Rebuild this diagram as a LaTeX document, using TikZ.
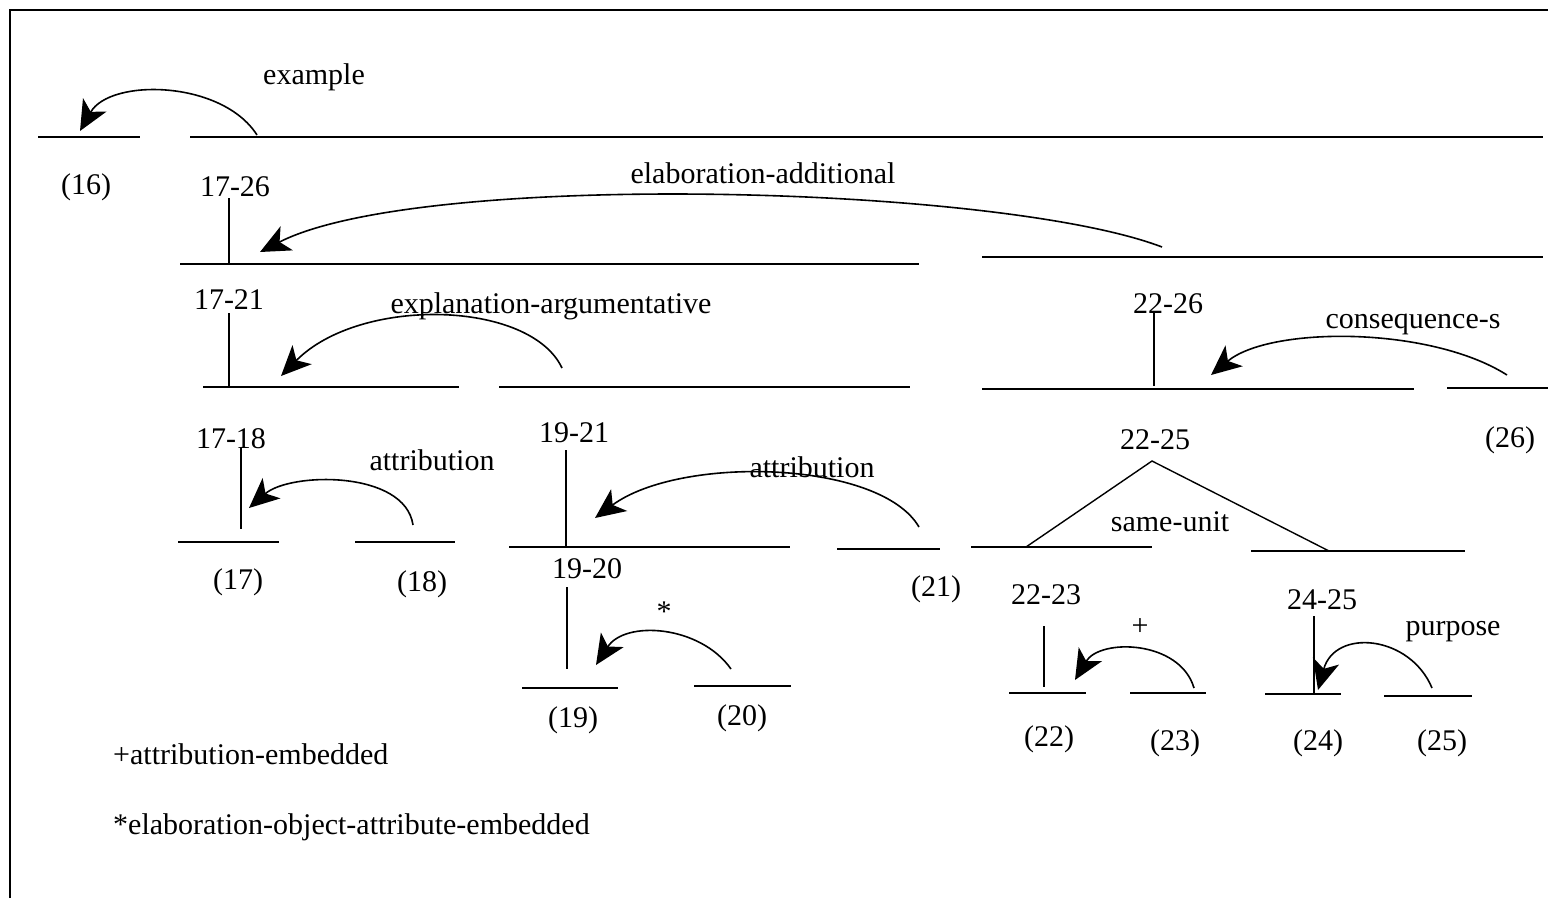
\documentclass[tikz,border=0pt]{standalone}
\usepackage{fontspec}
\setmainfont{Liberation Serif}
\usetikzlibrary{arrows.meta}
\begin{document}
\begin{tikzpicture}[x=1pt,y=-1pt,
  seg/.style={line width=1.8pt},
  stem/.style={line width=1.4pt},
  frame/.style={line width=2pt},
  rel/.style={line width=1.6pt,-{Stealth[length=30pt,width=27pt,inset=8pt]}},
  lbl/.style={inner sep=0pt,yshift=-2pt,font=\fontsize{30}{36}\selectfont}]
\useasboundingbox (0,0) rectangle (1548,898);

% outer frame (left and top edges)
\coordinate (fbl) at (10,898);
\coordinate (ftl) at (10,10);
\coordinate (ftr) at (1548,10);
\draw[frame] (fbl) -- (ftl) -- (ftr);

% ---------- level 1: (16) and 17-26 ----------
\coordinate (a16) at (38,137);   \coordinate (b16) at (140,137);
\coordinate (a1726) at (190,137); \coordinate (b1726) at (1543,137);
\draw[seg] (a16) -- (b16);
\draw[seg] (a1726) -- (b1726);
\node[lbl] (l16) at (86,185) {(16)};
\node[lbl] (l1726) at (235,185) {17-26};
\node[lbl] (rexample) at (314,75) {example};
\coordinate (sEx) at (257,135); \coordinate (tEx) at (80,131);
\draw[rel] (sEx) .. controls (222,80) and (110,78) .. (tEx);

% ---------- level 2: 17-21 and 22-26 ----------
\coordinate (v1726a) at (229,198); \coordinate (v1726b) at (229,264);
\draw[stem] (v1726a) -- (v1726b);
\coordinate (a1721) at (180,264); \coordinate (b1721) at (919,264);
\coordinate (a2226) at (982,257); \coordinate (b2226) at (1543,257);
\draw[seg] (a1721) -- (b1721);
\draw[seg] (a2226) -- (b2226);
\node[lbl] (relab) at (763,171) {elaboration-additional};
\coordinate (sEl) at (1162,247); \coordinate (tEl) at (260,252);
\draw[rel] (sEl) .. controls (1000,185) and (420,170) .. (tEl);

% ---------- level 3, left: 17-18 and 19-21 ----------
\node[lbl] (l1721) at (229,298) {17-21};
\coordinate (v1721a) at (229,313); \coordinate (v1721b) at (229,386);
\draw[stem] (v1721a) -- (v1721b);
\coordinate (a1718) at (203,387); \coordinate (b1718) at (459,387);
\coordinate (a1921) at (499,387); \coordinate (b1921) at (910,387);
\draw[seg] (a1718) -- (b1718);
\draw[seg] (a1921) -- (b1921);
\node[lbl] (rexpl) at (551,304) {explanation-argumentative};
\coordinate (sXp) at (562,368); \coordinate (tXp) at (281,376);
\draw[rel] (sXp) .. controls (530,300) and (360,296) .. (tXp);

% ---------- level 3, right: 22-25 and (26) ----------
\node[lbl] (l2226) at (1168,302) {22-26};
\coordinate (v2226a) at (1154,313); \coordinate (v2226b) at (1154,386);
\draw[stem] (v2226a) -- (v2226b);
\coordinate (a2225) at (982,389); \coordinate (b2225) at (1414,389);
\coordinate (a26) at (1447,388); \coordinate (b26) at (1548,388);
\draw[seg] (a2225) -- (b2225);
\draw[seg] (a26) -- (b26);
\node[lbl] (rcons) at (1413,322) {consequence-s};
\node[lbl] (l26) at (1510,438) {(26)};
\coordinate (sCo) at (1507,375); \coordinate (tCo) at (1211,375);
\draw[rel] (sCo) .. controls (1430,326) and (1270,326) .. (tCo);

% ---------- 17-18: (17) and (18) ----------
\node[lbl] (l1718) at (231,437) {17-18};
\coordinate (v1718a) at (241,448); \coordinate (v1718b) at (241,529);
\draw[stem] (v1718a) -- (v1718b);
\coordinate (a17) at (178,542); \coordinate (b17) at (279,542);
\coordinate (a18) at (355,542); \coordinate (b18) at (455,542);
\draw[seg] (a17) -- (b17);
\draw[seg] (a18) -- (b18);
\node[lbl] (rattA) at (432,458) {attribution};
\node[lbl] (l17) at (238,580) {(17)};
\node[lbl] (l18) at (422,582) {(18)};
\coordinate (sAa) at (413,525); \coordinate (tAa) at (249,508);
\draw[rel] (sAa) .. controls (405,470) and (290,472) .. (tAa);

% ---------- 19-21: 19-20 and (21) ----------
\node[lbl] (l1921) at (574,431) {19-21};
\coordinate (v1921a) at (566,450); \coordinate (v1921b) at (566,547);
\draw[stem] (v1921a) -- (v1921b);
\coordinate (a1920) at (509,547); \coordinate (b1920) at (790,547);
\coordinate (a21) at (837,549); \coordinate (b21) at (940,549);
\draw[seg] (a1920) -- (b1920);
\draw[seg] (a21) -- (b21);
\node[lbl] (rattB) at (812,465) {attribution};
\node[lbl] (l21) at (936,587) {(21)};
\coordinate (sAb) at (919,527); \coordinate (tAb) at (595,518);
\draw[rel] (sAb) .. controls (880,460) and (680,455) .. (tAb);

% ---------- 19-20: (19) and (20) ----------
\node[lbl] (l1920) at (587,567) {19-20};
\coordinate (v1920a) at (567,587); \coordinate (v1920b) at (567,669);
\draw[stem] (v1920a) -- (v1920b);
\coordinate (a19) at (522,688); \coordinate (b19) at (618,688);
\coordinate (a20) at (694,686); \coordinate (b20) at (791,686);
\draw[seg] (a19) -- (b19);
\draw[seg] (a20) -- (b20);
\node[lbl] (rstar) at (664,610) {*};
\node[lbl] (l19) at (573,718) {(19)};
\node[lbl] (l20) at (742,716) {(20)};
\coordinate (sSt) at (731,669); \coordinate (tSt) at (596,665);
\draw[rel] (sSt) .. controls (700,625) and (625,620) .. (tSt);

% ---------- 22-25: same-unit ----------
\node[lbl] (l2225) at (1155,438) {22-25};
\coordinate (apex) at (1152,461);
\coordinate (a2223) at (971,547); \coordinate (b2223) at (1152,547);
\coordinate (a2425) at (1251,551); \coordinate (b2425) at (1465,551);
\coordinate (footL) at (1026,547); \coordinate (footR) at (1329,551);
\draw[seg] (a2223) -- (b2223);
\draw[seg] (a2425) -- (b2425);
\draw[stem] (footL) -- (apex) -- (footR);
\node[lbl] (rsame) at (1170,520) {same-unit};

% ---------- 22-23: (22) and (23) ----------
\node[lbl] (l2223) at (1046,593) {22-23};
\coordinate (v2223a) at (1044,626); \coordinate (v2223b) at (1044,687);
\draw[stem] (v2223a) -- (v2223b);
\coordinate (a22) at (1009,693); \coordinate (b22) at (1086,693);
\coordinate (a23) at (1130,693); \coordinate (b23) at (1206,693);
\draw[seg] (a22) -- (b22);
\draw[seg] (a23) -- (b23);
\node[lbl] (rplus) at (1140,625) {+};
\node[lbl] (l22) at (1049,737) {(22)};
\node[lbl] (l23) at (1175,741) {(23)};
\coordinate (sPl) at (1194,688); \coordinate (tPl) at (1075,680);
\draw[rel] (sPl) .. controls (1180,640) and (1100,638) .. (tPl);

% ---------- 24-25: (24) and (25) ----------
\node[lbl] (l2425) at (1322,598) {24-25};
\coordinate (v2425a) at (1314,616); \coordinate (v2425b) at (1314,693);
\draw[stem] (v2425a) -- (v2425b);
\coordinate (a24) at (1265,694); \coordinate (b24) at (1341,694);
\coordinate (a25) at (1384,696); \coordinate (b25) at (1472,696);
\draw[seg] (a24) -- (b24);
\draw[seg] (a25) -- (b25);
\node[lbl] (rpurp) at (1453,630) {purpose};
\node[lbl] (l24) at (1318,741) {(24)};
\node[lbl] (l25) at (1442,741) {(25)};
\coordinate (sPu) at (1432,688); \coordinate (tPu) at (1318,690);
\draw[rel] (sPu) .. controls (1410,635) and (1335,628) .. (tPu);

% ---------- legend ----------
\node[lbl,anchor=west] (leg1) at (113,752) {+attribution-embedded};
\node[lbl,anchor=west] (leg2) at (113,825) {*elaboration-object-attribute-embedded};
\end{tikzpicture}
\end{document}
